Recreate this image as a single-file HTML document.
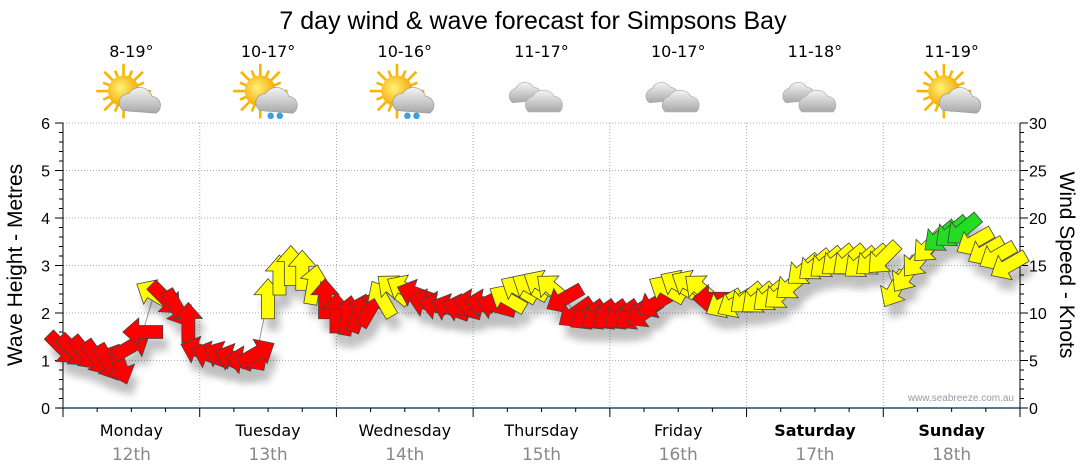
<!DOCTYPE html>
<html><head><meta charset="utf-8"><style>
body{margin:0;background:#fff;}
svg{display:block;font-family:"Liberation Sans",sans-serif;}
</style></head><body>
<svg id="c" width="1080" height="475" viewBox="0 0 1080 475">
<defs>
<filter id="sh" x="-50%" y="-50%" width="200%" height="200%"><feGaussianBlur stdDeviation="4"/></filter>
<radialGradient id="sun" cx="0.4" cy="0.4" r="0.6"><stop offset="0" stop-color="#fff27a"/><stop offset="1" stop-color="#f5a800"/></radialGradient>
<linearGradient id="cl" x1="0" y1="0" x2="0" y2="1"><stop offset="0" stop-color="#f4f4f4"/><stop offset="1" stop-color="#a8a8a8"/></linearGradient>
</defs>
<text x="533" y="29" font-size="25" text-anchor="middle">7 day wind &amp; wave forecast for Simpsons Bay</text>
<g id="grid"></g><g id="axes"></g><g id="icons"></g>
<path id="waveLine" fill="none" stroke="#999" stroke-width="1"/>
<g id="shadows" opacity="0.25"></g><g id="arrows"></g>
<text x="1014" y="401" font-size="10" fill="#99a" text-anchor="end">www.seabreeze.com.au</text>
<text transform="translate(22,265) rotate(-90)" font-size="21" text-anchor="middle">Wave Height - Metres</text>
<text transform="translate(1060,265) rotate(90)" font-size="21" text-anchor="middle">Wind Speed - Knots</text>
</svg>
<script>
const days=["Monday","Tuesday","Wednesday","Thursday","Friday","Saturday","Sunday"];
const dates=["12th","13th","14th","15th","16th","17th","18th"];
const temps=["8-19°","10-17°","10-16°","11-17°","10-17°","11-18°","11-19°"];
const iconTypes=["sun","rain","rain","cloud","cloud","cloud","sun"];
const leftTicks=[0,1,2,3,4,5,6];
const rightTicks=[0,5,10,15,20,25,30];
const hours=[0,2,4,6,8,10,12,14,16,18,20,22,24,26,28,30,32,34,36,38,40,42,44,46,48,50,52,54,56,58,60,62,64,66,68,70,72,74,76,78,80,82,84,86,88,90,92,94,96,98,100,102,104,106,108,110,112,114,116,118,120,122,124,126,128,130,132,134,136,138,140,142,144,146,148,150,152,154,156,158,160,162,164,166];
const waveH=[1.25,1.2,1.15,1.05,0.95,0.9,1.3,1.6,2.4,2.3,2.1,1.8,
1.2,1.1,1.1,1.05,1.0,1.15,2.3,2.8,3.0,2.9,2.6,2.3,
2.0,1.95,2.0,2.1,2.3,2.5,2.5,2.4,2.2,2.15,2.1,2.1,
2.2,2.2,2.15,2.3,2.5,2.55,2.6,2.5,2.3,2.0,1.95,1.95,
1.95,1.95,1.95,2.0,2.2,2.5,2.6,2.6,2.5,2.3,2.2,2.2,
2.3,2.3,2.35,2.4,2.6,2.9,3.0,3.05,3.1,3.1,3.05,3.1,
3.15,2.5,2.8,3.1,3.4,3.6,3.7,3.75,3.5,3.3,3.2,3.0];
const windDir=[135,135,140,145,150,160,60,270,300,135,150,0,
290,290,295,290,280,60,0,0,0,0,10,0,
0,10,20,30,330,310,300,290,285,280,290,285,
280,280,285,300,300,300,300,310,240,235,235,235,
235,235,235,235,240,300,300,300,310,270,240,240,
230,230,230,230,230,230,230,230,230,230,230,230,
225,210,215,220,225,230,230,230,240,240,240,240];
const windSpd=[8,8,8,8,8,8,8,8,12,9,9,9,
8,8,8,8,8,8,12,12,12,12,12,9,
9,9,9,9,12,12,12,9,9,9,9,9,
9,9,9,12,12,12,12,12,9,9,9,9,
9,9,9,9,9,12,12,12,12,9,12,12,
12,12,12,12,12,12,12,12,12,12,12,12,
13,13,13,13,14,17,18,18,15,14,14,14];

const NS="http://www.w3.org/2000/svg";
const X0=63,X1=1020,Y0=408,Y1=123;
const xS=h=>X0+(X1-X0)*h/168;
const yS=m=>Y0-(Y0-Y1)*m/6;
function mk(t,a,p){const e=document.createElementNS(NS,t);for(const k in a)e.setAttribute(k,a[k]);(p||document.getElementById('c')).appendChild(e);return e;}
const grid=document.getElementById('grid'),axes=document.getElementById('axes');
leftTicks.forEach(v=>{
  if(v>0){const g=mk('line',{x1:X0,x2:X1,y1:yS(v),y2:yS(v),stroke:'#aaa','stroke-dasharray':'1,2'},grid);
  
  }
  const t=mk('text',{x:50,y:yS(v)+6,'font-size':16,'text-anchor':'end'},axes);t.textContent=v;
  
  
});
rightTicks.forEach(v=>{
  const t=mk('text',{x:1029,y:yS(v/5)+6,'font-size':16},axes);t.textContent=v;
  
  
});
for(let i=0;i<=30;i++){const y=yS(i/5);mk('line',{x1:X0-(i%5?4:8),x2:X0,y1:y,y2:y,stroke:'#000'},axes);mk('line',{x1:X1,x2:X1+(i%5?4:8),y1:y,y2:y,stroke:'#000'},axes);}
mk('line',{x1:X0,x2:X0,y1:Y1,y2:Y0,stroke:'#000'},axes);
mk('line',{x1:X1,x2:X1,y1:Y1,y2:Y0,stroke:'#000'},axes);
mk('line',{x1:X0-6,x2:X1,y1:Y0,y2:Y0,stroke:'#1f4e6e','stroke-width':1.5},axes);
for(let h=0;h<=168;h+=6){mk('line',{x1:xS(h),x2:xS(h),y1:Y0,y2:Y0+(h%24?4:9),stroke:'#000'},axes);}
days.forEach((d,i)=>{
  if(i>0){const g=mk('line',{x1:xS(i*24),x2:xS(i*24),y1:Y1,y2:Y0,stroke:'#aaa','stroke-dasharray':'1,2'},grid);
  
  }
  const cx=xS(i*24+12);
  const t=mk('text',{x:cx,y:436,'font-size':16,'text-anchor':'middle','font-weight':i>=5?'bold':'normal','font-family':'DejaVu Sans, sans-serif'},axes);t.textContent=d;
  
  
  const t2=mk('text',{x:cx,y:460,'font-size':17,'text-anchor':'middle',fill:'#888','font-family':'DejaVu Sans, sans-serif'},axes);t2.textContent=dates[i];
  
  
  const t3=mk('text',{x:cx,y:57,'font-size':16,'text-anchor':'middle','font-family':'DejaVu Sans, sans-serif'},axes);t3.textContent=temps[i];
  
  
  const g=mk('g',{transform:`translate(${cx},95) scale(1.3)`},document.getElementById('icons'));
  
  
  const tp=iconTypes[i];
  if(tp!=='cloud'){
    for(let k=0;k<16;k++){const a=k*Math.PI/8;mk('line',{x1:-6+Math.cos(a)*10,y1:-3+Math.sin(a)*10,x2:-6+Math.cos(a)*(k%2?17:21),y2:-3+Math.sin(a)*(k%2?17:21),stroke:'#f7b500','stroke-width':2},g);}
    mk('circle',{cx:-6,cy:-3,r:12,fill:'url(#sun)'},g);
    mk('path',{d:'M-6,12 a7,7 0 0 1 4,-13 a10,10 0 0 1 18,2 a7,7 0 0 1 3,13 z',fill:'url(#cl)',stroke:'#999','stroke-width':0.5},g);
    if(tp==='rain'){mk('circle',{cx:2,cy:16,r:2.5,fill:'#3aa0e0'},g);mk('circle',{cx:9,cy:16,r:2.5,fill:'#3aa0e0'},g);}
  }else{
    mk('path',{d:'M-22,6 a6,6 0 0 1 2,-11 a8,8 0 0 1 14,-1 a6,6 0 0 1 4,10 z',fill:'url(#cl)',stroke:'#aaa','stroke-width':0.5},g);
    mk('path',{d:'M-10,13 a7,7 0 0 1 3,-12 a10,10 0 0 1 17,0 a7,7 0 0 1 4,12 z',fill:'url(#cl)',stroke:'#aaa','stroke-width':0.5},g);
  }
});
let d='';hours.forEach((h,i)=>{d+=(i?'L':'M')+xS(h)+','+yS(waveH[i]);});
document.getElementById('waveLine').setAttribute('d',d);
const AR='M0,-20 L14,-4 L6.5,-4 L6.5,20 L-6.5,20 L-6.5,-4 L-14,-4 Z';
const col=s=>s>=17?'#22dd22':(s>=11?'#ffff00':'#ff0000');
const sh=document.getElementById('shadows'),ar=document.getElementById('arrows');
hours.forEach((h,i)=>{
  const x=xS(h),y=yS(waveH[i]);
  const s=mk('path',{d:AR,transform:`translate(${x+5},${y+12}) rotate(${windDir[i]})`,fill:'#000',filter:'url(#sh)'},sh);
  
  
  const a=mk('path',{d:AR,transform:`translate(${x},${y}) rotate(${windDir[i]})`,fill:col(windSpd[i]),stroke:'#444','stroke-width':0.8},ar);
  
  
});
</script>
</body></html>
